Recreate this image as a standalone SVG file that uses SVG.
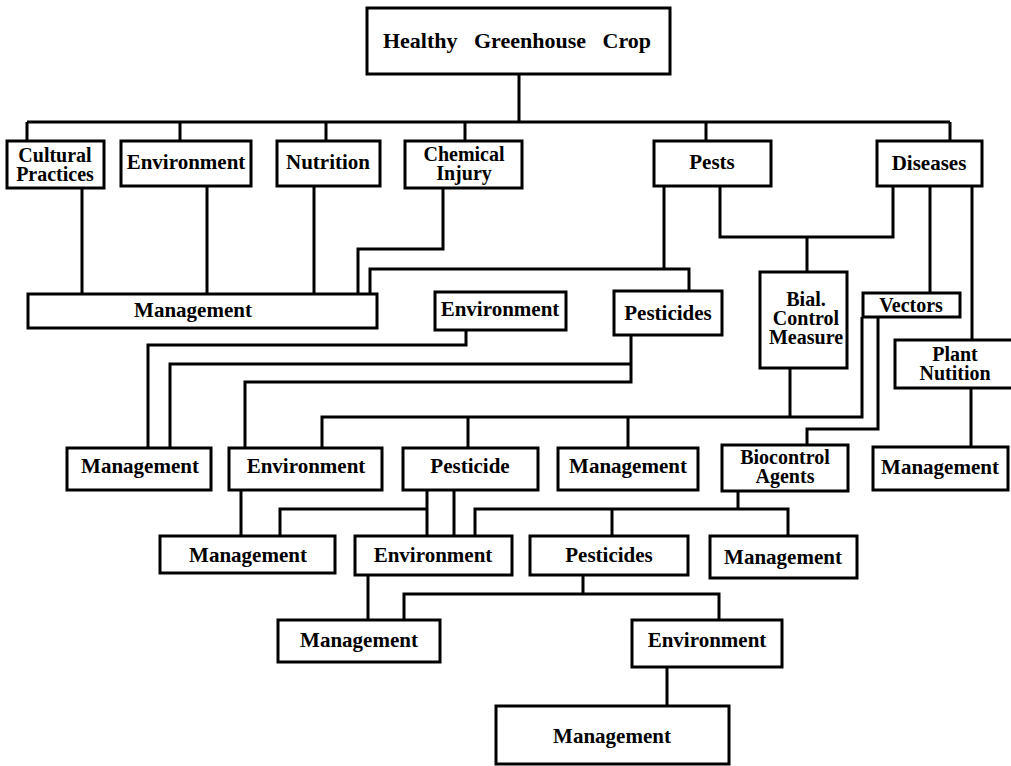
<svg xmlns="http://www.w3.org/2000/svg" width="1011" height="766" viewBox="0 0 1011 766">
<style>
rect{fill:#fff;stroke:#000;stroke-width:3}
text{font-family:"Liberation Serif","Times New Roman",serif;font-weight:bold;font-size:21px;text-anchor:middle;fill:#000}
text.s{font-size:20px}
#connectors path{fill:none;stroke:#000;stroke-width:3}
</style>
<rect x="0" y="0" width="1011" height="766" style="stroke:none;fill:#fff"/>
<g id="connectors">
<path d="M519,74 V122"/>
<path d="M27,122 H950"/>
<path d="M27,122 V141 M180,122 V141 M326,122 V141 M465,122 V141 M706,122 V141 M950,122 V141"/>
<path d="M82,188 V294 M207,186 V294 M314,186 V294"/>
<path d="M443,188 V249 H358 V294"/>
<path d="M664,186 V269"/>
<path d="M370,294 V269 H689 V291"/>
<path d="M720,186 V237 H893 V186"/>
<path d="M807,237 V272"/>
<path d="M930,186 V293"/>
<path d="M972,186 V340"/>
<path d="M466,330 V345 H148 V448"/>
<path d="M631,335 V382 H245 V448"/>
<path d="M631,364 H170 V448"/>
<path d="M790,368 V417"/>
<path d="M862,317 V417 H322 V448"/>
<path d="M468,417 V448 M628,417 V448"/>
<path d="M878,317 V429 H807 V445"/>
<path d="M971,388 V447"/>
<path d="M241,490 V536 M427,490 V536 M454,490 V536"/>
<path d="M427,509 H280 V536"/>
<path d="M738,491 V509"/>
<path d="M475,536 V509 H788 V536"/>
<path d="M612,509 V536"/>
<path d="M368,575 V620"/>
<path d="M583,575 V594"/>
<path d="M404,620 V594 H719 V620"/>
<path d="M667,667 V706"/>
</g>
<g id="n0"><rect x="367" y="8" width="303" height="66"/><text x="517" y="48" style="font-size:22px" word-spacing="11">Healthy Greenhouse Crop</text></g>
<g id="n1"><rect x="7" y="141" width="97" height="47"/><text class="s" x="55" y="162">Cultural</text><text class="s" x="55" y="181">Practices</text></g>
<g id="n2"><rect x="121" y="141" width="130" height="45"/><text x="186" y="169">Environment</text></g>
<g id="n3"><rect x="277" y="141" width="103" height="45"/><text x="328" y="169">Nutrition</text></g>
<g id="n4"><rect x="405" y="141" width="117" height="47"/><text class="s" x="464" y="161">Chemical</text><text class="s" x="464" y="180">Injury</text></g>
<g id="n5"><rect x="654" y="141" width="117" height="45"/><text x="712" y="169">Pests</text></g>
<g id="n6"><rect x="877" y="141" width="105" height="45"/><text x="929" y="170">Diseases</text></g>
<g id="n7"><rect x="28" y="294" width="349" height="34"/><text x="193" y="317">Management</text></g>
<g id="n8"><rect x="435" y="292" width="131" height="38"/><text x="500" y="316">Environment</text></g>
<g id="n9"><rect x="614" y="291" width="108" height="44"/><text x="668" y="320">Pesticides</text></g>
<g id="n10"><rect x="760" y="272" width="87" height="96"/><text class="s" x="806" y="306">Bial.</text><text class="s" x="806" y="325">Control</text><text class="s" x="806" y="344">Measure</text></g>
<g id="n11"><rect x="863" y="293" width="97" height="24"/><text class="s" x="911" y="312">Vectors</text></g>
<g id="n12"><rect x="895" y="340" width="118" height="48"/><text class="s" x="955" y="361">Plant</text><text class="s" x="955" y="380">Nutition</text></g>
<g id="n13"><rect x="67" y="448" width="144" height="42"/><text x="140" y="473">Management</text></g>
<g id="n14"><rect x="229" y="448" width="153" height="42"/><text x="306" y="473">Environment</text></g>
<g id="n15"><rect x="403" y="448" width="135" height="42"/><text x="470" y="473">Pesticide</text></g>
<g id="n16"><rect x="558" y="448" width="140" height="42"/><text x="628" y="473">Management</text></g>
<g id="n17"><rect x="722" y="445" width="126" height="46"/><text class="s" x="785" y="464">Biocontrol</text><text class="s" x="785" y="483">Agents</text></g>
<g id="n18"><rect x="873" y="447" width="135" height="43"/><text x="940" y="474">Management</text></g>
<g id="n19"><rect x="160" y="536" width="175" height="37"/><text x="248" y="562">Management</text></g>
<g id="n20"><rect x="355" y="536" width="157" height="39"/><text x="433" y="562">Environment</text></g>
<g id="n21"><rect x="530" y="536" width="158" height="39"/><text x="609" y="562">Pesticides</text></g>
<g id="n22"><rect x="710" y="536" width="147" height="42"/><text x="783" y="564">Management</text></g>
<g id="n23"><rect x="278" y="620" width="162" height="42"/><text x="359" y="647">Management</text></g>
<g id="n24"><rect x="632" y="620" width="150" height="47"/><text x="707" y="647">Environment</text></g>
<g id="n25"><rect x="496" y="706" width="233" height="58"/><text x="612" y="743">Management</text></g>
</svg>
